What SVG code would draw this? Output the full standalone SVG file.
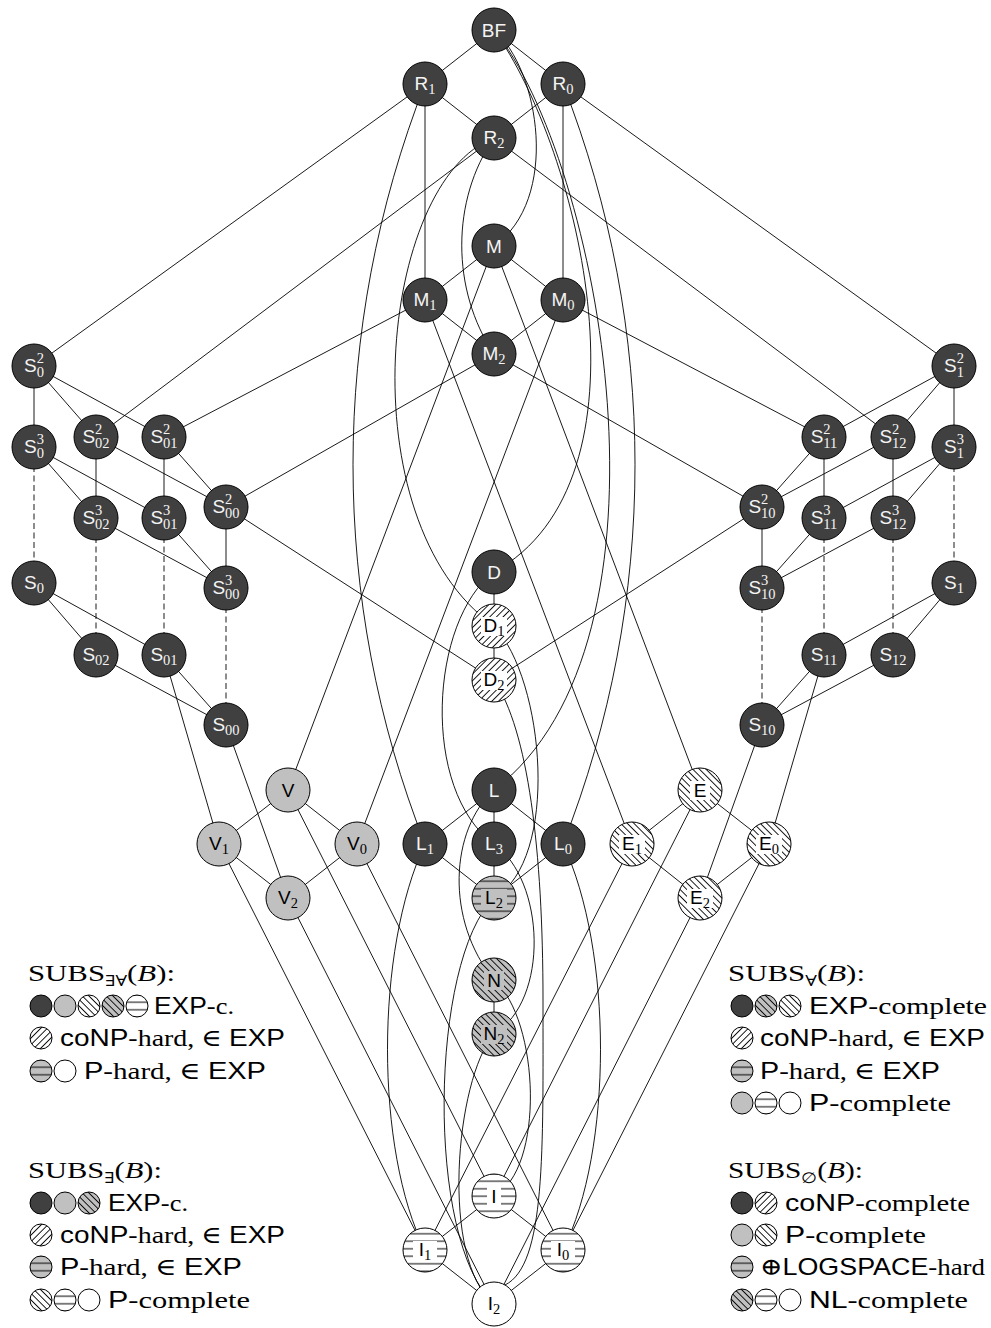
<svg xmlns="http://www.w3.org/2000/svg" width="991" height="1328" viewBox="0 0 991 1328">
<style>
.e{fill:none;stroke:#000;stroke-width:0.9}
.ds{stroke-dasharray:6 3.5}
.n{stroke:#000;stroke-width:1}
.dk{fill:#404040}
.gy{fill:#c0c0c0}
.wt{fill:#fff}
.lb{font-family:"Liberation Sans",Arial,sans-serif;font-size:19px;text-anchor:middle}
.lw{fill:#f4f4f4}
.lk{fill:#000}
.sb{font-family:"Liberation Serif","Times New Roman",serif;font-size:14.5px}
.lg{font-family:"Liberation Serif","DejaVu Serif",serif;font-size:24px;fill:#000}
.sf{font-family:"Liberation Sans",Arial,sans-serif}
</style>
<defs>
<pattern id="pNE" width="4.7" height="4.7" patternUnits="userSpaceOnUse" patternTransform="rotate(-45)"><path d="M0 2.35H4.7" stroke="#000" stroke-width="0.9"/></pattern>
<pattern id="pSE" width="4.7" height="4.7" patternUnits="userSpaceOnUse" patternTransform="rotate(45)"><path d="M0 2.35H4.7" stroke="#000" stroke-width="0.9"/></pattern>
<pattern id="pH" width="10" height="7.5" patternUnits="userSpaceOnUse"><path d="M0 3.75H10" stroke="#000" stroke-width="1"/></pattern>
<g id="i-dk"><circle r="11" class="n dk"/></g>
<g id="i-gy"><circle r="11" class="n gy"/></g>
<g id="i-wt"><circle r="11" class="n wt"/></g>
<g id="i-wse"><circle r="11" class="wt"/><circle r="11" class="n" fill="url(#pSE)"/></g>
<g id="i-gse"><circle r="11" class="gy"/><circle r="11" class="n" fill="url(#pSE)"/></g>
<g id="i-wne"><circle r="11" class="wt"/><circle r="11" class="n" fill="url(#pNE)"/></g>
<g id="i-wh"><circle r="11" class="wt"/><circle r="11" class="n" fill="url(#pH)"/></g>
<g id="i-gh"><circle r="11" class="gy"/><circle r="11" class="n" fill="url(#pH)"/></g>
</defs>
<rect width="991" height="1328" fill="#fff"/>

<g id="connectors">
<path class="e" d="M494 30L425 84M494 30L563 84M425 84L494 138M563 84L494 138M425 84L425 300M563 84L563 300M494 246L425 300M494 246L563 300M425 300L494 354M563 300L494 354"/>
<path class="e" d="M425 84L34 366M563 84L954 366M494 138L96 437M494 138L893 437M425 300L164 437M563 300L824 437M494 354L226 507M494 354L762 507"/>
<path class="e" d="M494 246L288 790M494 246L700 790M425 300L632 844M563 300L357 844"/>
<path class="e" d="M34 366L34 447M34 366L96 437M34 366L164 437M34 447L96 518M34 447L164 518M96 437L96 518M96 437L226 507M164 437L164 518M164 437L226 507M226 507L226 588M96 518L226 588M164 518L226 588M34 583L96 655M34 583L164 655M96 655L226 725M164 655L226 725M226 507L494 680M164 655L219 844M226 725L288 898"/>
<path class="e ds" d="M34 447L34 583M96 518L96 655M164 518L164 655M226 588L226 725"/>
<path class="e" d="M954 366L954 447M954 366L893 437M954 366L824 437M954 447L893 518M954 447L824 518M893 437L893 518M893 437L762 507M824 437L824 518M824 437L762 507M762 507L762 588M893 518L762 588M824 518L762 588M954 583L893 655M954 583L824 655M893 655L762 725M824 655L762 725M762 507L494 680M824 655L769 844M762 725L700 898"/>
<path class="e ds" d="M954 447L954 583M893 518L893 655M824 518L824 655M762 588L762 725"/>
<path class="e" d="M494 572L494 680M494 790L425 844M494 790L494 844M494 790L563 844M425 844L494 898M494 844L494 898M563 844L494 898M494 980L494 1034"/>
<path class="e" d="M288 790L219 844M288 790L357 844M219 844L288 898M357 844L288 898M700 790L632 844M700 790L769 844M632 844L700 898M769 844L700 898"/>
<path class="e" d="M288 790L494 1196M700 790L494 1196M219 844L425 1250M632 844L425 1250M357 844L563 1250M769 844L563 1250M288 898L494 1304M700 898L494 1304M494 1196L425 1250M494 1196L563 1250M425 1250L494 1304M563 1250L494 1304"/>
<path class="e" d="M494 30C540 70 560 200 494 246"/>
<path class="e" d="M494 30C580 150 660 480 494 572"/>
<path class="e" d="M494 30C600 160 690 640 494 790"/>
<path class="e" d="M425 84C329 330 329 600 425 844"/>
<path class="e" d="M563 84C659 330 659 600 563 844"/>
<path class="e" d="M494 138C451 200 451 290 494 354"/>
<path class="e" d="M494 138C380 180 345 520 494 626"/>
<path class="e" d="M494 572C430 620 420 790 494 844"/>
<path class="e" d="M494 626C545 680 560 860 494 898"/>
<path class="e" d="M494 680C528 730 543 850 543 1000S546 1265 505 1285"/>
<path class="e" d="M494 790C450 830 445 920 494 980"/>
<path class="e" d="M494 844C545 880 550 1000 494 1034"/>
<path class="e" d="M494 980C540 1020 545 1170 494 1196"/>
<path class="e" d="M494 1034C455 1080 440 1260 494 1304"/>
<path class="e" d="M494 898C430 960 425 1240 494 1304"/>
<path class="e" d="M425 844C375 950 375 1150 425 1250"/>
<path class="e" d="M563 844C613 950 613 1150 563 1250"/>
</g>

<g id="n-BF"><circle cx="494" cy="30" r="22" class="n dk"/><text class="lb lw" x="494" y="37">BF</text></g>
<g id="n-R1"><circle cx="425" cy="84" r="22" class="n dk"/><text class="lb lw" x="425" y="90">R<tspan class="sb" dy="3.5">1</tspan></text></g>
<g id="n-R0"><circle cx="563" cy="84" r="22" class="n dk"/><text class="lb lw" x="563" y="90">R<tspan class="sb" dy="3.5">0</tspan></text></g>
<g id="n-R2"><circle cx="494" cy="138" r="22" class="n dk"/><text class="lb lw" x="494" y="144">R<tspan class="sb" dy="3.5">2</tspan></text></g>
<g id="n-M"><circle cx="494" cy="246" r="22" class="n dk"/><text class="lb lw" x="494" y="253">M</text></g>
<g id="n-M1"><circle cx="425" cy="300" r="22" class="n dk"/><text class="lb lw" x="425" y="306">M<tspan class="sb" dy="3.5">1</tspan></text></g>
<g id="n-M0"><circle cx="563" cy="300" r="22" class="n dk"/><text class="lb lw" x="563" y="306">M<tspan class="sb" dy="3.5">0</tspan></text></g>
<g id="n-M2"><circle cx="494" cy="354" r="22" class="n dk"/><text class="lb lw" x="494" y="360">M<tspan class="sb" dy="3.5">2</tspan></text></g>

<g id="n-S0_2"><circle cx="34" cy="366" r="22" class="n dk"/><text class="lb lw" x="34" y="372">S<tspan class="sb" dy="-9">2</tspan><tspan class="sb" dx="-7.25" dy="14">0</tspan></text></g>
<g id="n-S0_3"><circle cx="34" cy="447" r="22" class="n dk"/><text class="lb lw" x="34" y="453">S<tspan class="sb" dy="-9">3</tspan><tspan class="sb" dx="-7.25" dy="14">0</tspan></text></g>
<g id="n-S02_2"><circle cx="96" cy="437" r="22" class="n dk"/><text class="lb lw" x="96" y="443">S<tspan class="sb" dy="-9">2</tspan><tspan class="sb" dx="-7.25" dy="14">02</tspan></text></g>
<g id="n-S01_2"><circle cx="164" cy="437" r="22" class="n dk"/><text class="lb lw" x="164" y="443">S<tspan class="sb" dy="-9">2</tspan><tspan class="sb" dx="-7.25" dy="14">01</tspan></text></g>
<g id="n-S00_2"><circle cx="226" cy="507" r="22" class="n dk"/><text class="lb lw" x="226" y="513">S<tspan class="sb" dy="-9">2</tspan><tspan class="sb" dx="-7.25" dy="14">00</tspan></text></g>
<g id="n-S02_3"><circle cx="96" cy="518" r="22" class="n dk"/><text class="lb lw" x="96" y="524">S<tspan class="sb" dy="-9">3</tspan><tspan class="sb" dx="-7.25" dy="14">02</tspan></text></g>
<g id="n-S01_3"><circle cx="164" cy="518" r="22" class="n dk"/><text class="lb lw" x="164" y="524">S<tspan class="sb" dy="-9">3</tspan><tspan class="sb" dx="-7.25" dy="14">01</tspan></text></g>
<g id="n-S00_3"><circle cx="226" cy="588" r="22" class="n dk"/><text class="lb lw" x="226" y="594">S<tspan class="sb" dy="-9">3</tspan><tspan class="sb" dx="-7.25" dy="14">00</tspan></text></g>
<g id="n-S0"><circle cx="34" cy="583" r="22" class="n dk"/><text class="lb lw" x="34" y="589">S<tspan class="sb" dy="3.5">0</tspan></text></g>
<g id="n-S02"><circle cx="96" cy="655" r="22" class="n dk"/><text class="lb lw" x="96" y="661">S<tspan class="sb" dy="3.5">02</tspan></text></g>
<g id="n-S01"><circle cx="164" cy="655" r="22" class="n dk"/><text class="lb lw" x="164" y="661">S<tspan class="sb" dy="3.5">01</tspan></text></g>
<g id="n-S00"><circle cx="226" cy="725" r="22" class="n dk"/><text class="lb lw" x="226" y="731">S<tspan class="sb" dy="3.5">00</tspan></text></g>

<g id="n-S1_2"><circle cx="954" cy="366" r="22" class="n dk"/><text class="lb lw" x="954" y="372">S<tspan class="sb" dy="-9">2</tspan><tspan class="sb" dx="-7.25" dy="14">1</tspan></text></g>
<g id="n-S1_3"><circle cx="954" cy="447" r="22" class="n dk"/><text class="lb lw" x="954" y="453">S<tspan class="sb" dy="-9">3</tspan><tspan class="sb" dx="-7.25" dy="14">1</tspan></text></g>
<g id="n-S11_2"><circle cx="824" cy="437" r="22" class="n dk"/><text class="lb lw" x="824" y="443">S<tspan class="sb" dy="-9">2</tspan><tspan class="sb" dx="-7.25" dy="14">11</tspan></text></g>
<g id="n-S12_2"><circle cx="893" cy="437" r="22" class="n dk"/><text class="lb lw" x="893" y="443">S<tspan class="sb" dy="-9">2</tspan><tspan class="sb" dx="-7.25" dy="14">12</tspan></text></g>
<g id="n-S10_2"><circle cx="762" cy="507" r="22" class="n dk"/><text class="lb lw" x="762" y="513">S<tspan class="sb" dy="-9">2</tspan><tspan class="sb" dx="-7.25" dy="14">10</tspan></text></g>
<g id="n-S11_3"><circle cx="824" cy="518" r="22" class="n dk"/><text class="lb lw" x="824" y="524">S<tspan class="sb" dy="-9">3</tspan><tspan class="sb" dx="-7.25" dy="14">11</tspan></text></g>
<g id="n-S12_3"><circle cx="893" cy="518" r="22" class="n dk"/><text class="lb lw" x="893" y="524">S<tspan class="sb" dy="-9">3</tspan><tspan class="sb" dx="-7.25" dy="14">12</tspan></text></g>
<g id="n-S10_3"><circle cx="762" cy="588" r="22" class="n dk"/><text class="lb lw" x="762" y="594">S<tspan class="sb" dy="-9">3</tspan><tspan class="sb" dx="-7.25" dy="14">10</tspan></text></g>
<g id="n-S1"><circle cx="954" cy="583" r="22" class="n dk"/><text class="lb lw" x="954" y="589">S<tspan class="sb" dy="3.5">1</tspan></text></g>
<g id="n-S11"><circle cx="824" cy="655" r="22" class="n dk"/><text class="lb lw" x="824" y="661">S<tspan class="sb" dy="3.5">11</tspan></text></g>
<g id="n-S12"><circle cx="893" cy="655" r="22" class="n dk"/><text class="lb lw" x="893" y="661">S<tspan class="sb" dy="3.5">12</tspan></text></g>
<g id="n-S10"><circle cx="762" cy="725" r="22" class="n dk"/><text class="lb lw" x="762" y="731">S<tspan class="sb" dy="3.5">10</tspan></text></g>

<g id="n-D"><circle cx="494" cy="572" r="22" class="n dk"/><text class="lb lw" x="494" y="579">D</text></g>
<g id="n-D1"><circle cx="494" cy="626" r="22" class="wt"/><circle cx="494" cy="626" r="22" class="n" fill="url(#pNE)"/><rect x="481" y="617" width="26" height="19" class="wt"/><text class="lb lk" x="494" y="632">D<tspan class="sb" dy="3.5">1</tspan></text></g>
<g id="n-D2"><circle cx="494" cy="680" r="22" class="wt"/><circle cx="494" cy="680" r="22" class="n" fill="url(#pNE)"/><rect x="481" y="671" width="26" height="19" class="wt"/><text class="lb lk" x="494" y="686">D<tspan class="sb" dy="3.5">2</tspan></text></g>

<g id="n-V"><circle cx="288" cy="790" r="22" class="n gy"/><text class="lb lk" x="288" y="797">V</text></g>
<g id="n-V1"><circle cx="219" cy="844" r="22" class="n gy"/><text class="lb lk" x="219" y="850">V<tspan class="sb" dy="3.5">1</tspan></text></g>
<g id="n-V0"><circle cx="357" cy="844" r="22" class="n gy"/><text class="lb lk" x="357" y="850">V<tspan class="sb" dy="3.5">0</tspan></text></g>
<g id="n-V2"><circle cx="288" cy="898" r="22" class="n gy"/><text class="lb lk" x="288" y="904">V<tspan class="sb" dy="3.5">2</tspan></text></g>

<g id="n-L"><circle cx="494" cy="790" r="22" class="n dk"/><text class="lb lw" x="494" y="797">L</text></g>
<g id="n-L1"><circle cx="425" cy="844" r="22" class="n dk"/><text class="lb lw" x="425" y="850">L<tspan class="sb" dy="3.5">1</tspan></text></g>
<g id="n-L3"><circle cx="494" cy="844" r="22" class="n dk"/><text class="lb lw" x="494" y="850">L<tspan class="sb" dy="3.5">3</tspan></text></g>
<g id="n-L0"><circle cx="563" cy="844" r="22" class="n dk"/><text class="lb lw" x="563" y="850">L<tspan class="sb" dy="3.5">0</tspan></text></g>
<g id="n-L2"><circle cx="494" cy="898" r="22" class="gy"/><circle cx="494" cy="898" r="22" class="n" fill="url(#pH)"/><rect x="481" y="889" width="26" height="19" class="gy"/><text class="lb lk" x="494" y="904">L<tspan class="sb" dy="3.5">2</tspan></text></g>

<g id="n-E"><circle cx="700" cy="790" r="22" class="wt"/><circle cx="700" cy="790" r="22" class="n" fill="url(#pSE)"/><rect x="690" y="781" width="20" height="19" class="wt"/><text class="lb lk" x="700" y="797">E</text></g>
<g id="n-E1"><circle cx="632" cy="844" r="22" class="wt"/><circle cx="632" cy="844" r="22" class="n" fill="url(#pSE)"/><rect x="619" y="835" width="26" height="19" class="wt"/><text class="lb lk" x="632" y="850">E<tspan class="sb" dy="3.5">1</tspan></text></g>
<g id="n-E0"><circle cx="769" cy="844" r="22" class="wt"/><circle cx="769" cy="844" r="22" class="n" fill="url(#pSE)"/><rect x="756" y="835" width="26" height="19" class="wt"/><text class="lb lk" x="769" y="850">E<tspan class="sb" dy="3.5">0</tspan></text></g>
<g id="n-E2"><circle cx="700" cy="898" r="22" class="wt"/><circle cx="700" cy="898" r="22" class="n" fill="url(#pSE)"/><rect x="687" y="889" width="26" height="19" class="wt"/><text class="lb lk" x="700" y="904">E<tspan class="sb" dy="3.5">2</tspan></text></g>

<g id="n-N"><circle cx="494" cy="980" r="22" class="gy"/><circle cx="494" cy="980" r="22" class="n" fill="url(#pSE)"/><rect x="484" y="971" width="20" height="19" class="gy"/><text class="lb lk" x="494" y="987">N</text></g>
<g id="n-N2"><circle cx="494" cy="1034" r="22" class="gy"/><circle cx="494" cy="1034" r="22" class="n" fill="url(#pSE)"/><rect x="481" y="1025" width="26" height="19" class="gy"/><text class="lb lk" x="494" y="1040">N<tspan class="sb" dy="3.5">2</tspan></text></g>

<g id="n-I"><circle cx="494" cy="1196" r="22" class="wt"/><circle cx="494" cy="1196" r="22" class="n" fill="url(#pH)"/><rect x="487" y="1187" width="14" height="19" class="wt"/><text class="lb lk" x="494" y="1203">I</text></g>
<g id="n-I1"><circle cx="425" cy="1250" r="22" class="wt"/><circle cx="425" cy="1250" r="22" class="n" fill="url(#pH)"/><rect x="413" y="1241" width="24" height="19" class="wt"/><text class="lb lk" x="425" y="1256">I<tspan class="sb" dy="3.5">1</tspan></text></g>
<g id="n-I0"><circle cx="563" cy="1250" r="22" class="wt"/><circle cx="563" cy="1250" r="22" class="n" fill="url(#pH)"/><rect x="551" y="1241" width="24" height="19" class="wt"/><text class="lb lk" x="563" y="1256">I<tspan class="sb" dy="3.5">0</tspan></text></g>
<g id="n-I2"><circle cx="494" cy="1304" r="22" class="n wt"/><text class="lb lk" x="494" y="1310">I<tspan class="sb" dy="3.5">2</tspan></text></g>

<g id="legend-EA">
<text class="lg" x="28" y="981" textLength="147" lengthAdjust="spacingAndGlyphs">SUBS<tspan font-size="15" dy="5">∃∀</tspan><tspan dy="-5">(</tspan><tspan font-style="italic">B</tspan>):</text>
<use href="#i-dk" x="41" y="1006"/><use href="#i-gy" x="65" y="1006"/><use href="#i-wse" x="89" y="1006"/><use href="#i-gse" x="113" y="1006"/><use href="#i-wh" x="137" y="1006"/>
<text class="lg" x="154" y="1014" textLength="80" lengthAdjust="spacingAndGlyphs"><tspan class="sf">EXP</tspan>-c.</text>
<use href="#i-wne" x="41" y="1038"/>
<text class="lg" x="60" y="1046" textLength="225" lengthAdjust="spacingAndGlyphs"><tspan class="sf">coNP</tspan>-hard, ∈ <tspan class="sf">EXP</tspan></text>
<use href="#i-gh" x="41" y="1071"/><use href="#i-wt" x="65" y="1071"/>
<text class="lg" x="84" y="1079" textLength="182" lengthAdjust="spacingAndGlyphs"><tspan class="sf">P</tspan>-hard, ∈ <tspan class="sf">EXP</tspan></text>
</g>

<g id="legend-E">
<text class="lg" x="28" y="1178" textLength="134" lengthAdjust="spacingAndGlyphs">SUBS<tspan font-size="15" dy="5">∃</tspan><tspan dy="-5">(</tspan><tspan font-style="italic">B</tspan>):</text>
<use href="#i-dk" x="41" y="1203"/><use href="#i-gy" x="65" y="1203"/><use href="#i-gse" x="89" y="1203"/>
<text class="lg" x="108" y="1211" textLength="80" lengthAdjust="spacingAndGlyphs"><tspan class="sf">EXP</tspan>-c.</text>
<use href="#i-wne" x="41" y="1235"/>
<text class="lg" x="60" y="1243" textLength="225" lengthAdjust="spacingAndGlyphs"><tspan class="sf">coNP</tspan>-hard, ∈ <tspan class="sf">EXP</tspan></text>
<use href="#i-gh" x="41" y="1267"/>
<text class="lg" x="60" y="1275" textLength="182" lengthAdjust="spacingAndGlyphs"><tspan class="sf">P</tspan>-hard, ∈ <tspan class="sf">EXP</tspan></text>
<use href="#i-wse" x="41" y="1300"/><use href="#i-wh" x="65" y="1300"/><use href="#i-wt" x="89" y="1300"/>
<text class="lg" x="108" y="1308" textLength="142" lengthAdjust="spacingAndGlyphs"><tspan class="sf">P</tspan>-complete</text>
</g>

<g id="legend-A">
<text class="lg" x="728" y="981" textLength="137" lengthAdjust="spacingAndGlyphs">SUBS<tspan font-size="15" dy="5">∀</tspan><tspan dy="-5">(</tspan><tspan font-style="italic">B</tspan>):</text>
<use href="#i-dk" x="742" y="1006"/><use href="#i-gse" x="766" y="1006"/><use href="#i-wse" x="790" y="1006"/>
<text class="lg" x="809" y="1014" textLength="178" lengthAdjust="spacingAndGlyphs"><tspan class="sf">EXP</tspan>-complete</text>
<use href="#i-wne" x="742" y="1038"/>
<text class="lg" x="760" y="1046" textLength="225" lengthAdjust="spacingAndGlyphs"><tspan class="sf">coNP</tspan>-hard, ∈ <tspan class="sf">EXP</tspan></text>
<use href="#i-gh" x="742" y="1071"/>
<text class="lg" x="760" y="1079" textLength="180" lengthAdjust="spacingAndGlyphs"><tspan class="sf">P</tspan>-hard, ∈ <tspan class="sf">EXP</tspan></text>
<use href="#i-gy" x="742" y="1103"/><use href="#i-wh" x="766" y="1103"/><use href="#i-wt" x="790" y="1103"/>
<text class="lg" x="809" y="1111" textLength="142" lengthAdjust="spacingAndGlyphs"><tspan class="sf">P</tspan>-complete</text>
</g>

<g id="legend-0">
<text class="lg" x="728" y="1178" textLength="135" lengthAdjust="spacingAndGlyphs">SUBS<tspan font-size="15" dy="5">∅</tspan><tspan dy="-5">(</tspan><tspan font-style="italic">B</tspan>):</text>
<use href="#i-dk" x="742" y="1203"/><use href="#i-wne" x="766" y="1203"/>
<text class="lg" x="785" y="1211" textLength="185" lengthAdjust="spacingAndGlyphs"><tspan class="sf">coNP</tspan>-complete</text>
<use href="#i-gy" x="742" y="1235"/><use href="#i-wse" x="766" y="1235"/>
<text class="lg" x="785" y="1243" textLength="141" lengthAdjust="spacingAndGlyphs"><tspan class="sf">P</tspan>-complete</text>
<use href="#i-gh" x="742" y="1267"/>
<text class="lg" x="760" y="1275" textLength="225" lengthAdjust="spacingAndGlyphs">⊕<tspan class="sf">LOGSPACE</tspan>-hard</text>
<use href="#i-gse" x="742" y="1300"/><use href="#i-wh" x="766" y="1300"/><use href="#i-wt" x="790" y="1300"/>
<text class="lg" x="809" y="1308" textLength="159" lengthAdjust="spacingAndGlyphs"><tspan class="sf">NL</tspan>-complete</text>
</g>
</svg>
